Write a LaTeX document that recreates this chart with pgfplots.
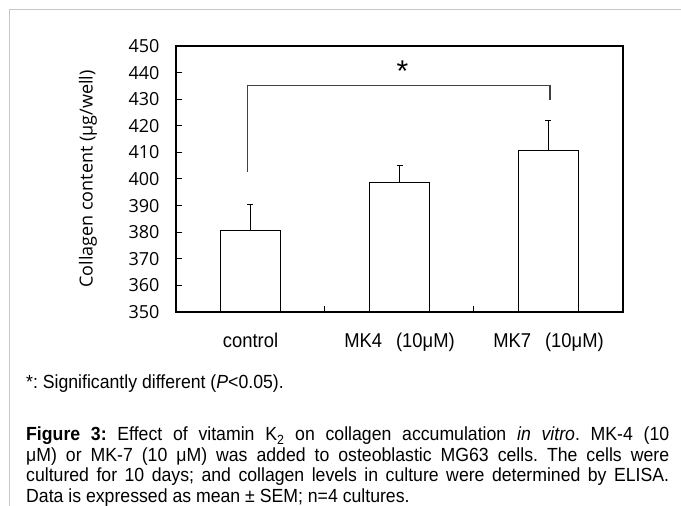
\documentclass[border=0pt]{standalone}
\usepackage{pgfplots}
\pgfplotsset{compat=1.18}
\usepackage{fontspec}
\setmainfont{Liberation Sans}
\newfontfamily\myr{Open Sans}
\newfontfamily\xf[FakeStretch=0.92]{Liberation Sans}
\newfontfamily\capf[FakeStretch=0.93]{Liberation Sans}
\begin{document}
\frenchspacing
\begin{tikzpicture}[x=1pt,y=1pt]
\useasboundingbox (0,0) rectangle (681,506);
\draw[gray!45, line width=1pt] (9,0) -- (9,496) -- (681,496);
\begin{axis}[
  at={(176pt,194pt)}, anchor=south west,
  scale only axis, width=447pt, height=266pt,
  xmin=-0.5, xmax=2.5, ymin=350, ymax=450,
  axis line style={line width=1.1pt},
  ytick={350,360,...,450},
  ytick pos=left, xtick pos=bottom,
  tick align=inside, major tick length=6pt,
  tick style={line width=1pt, black},
  /pgf/number format/assume math mode=true,
  yticklabel style={font=\fontsize{18}{20}\myr, xshift=-13pt},
  xtick={0,1,2},
  xticklabels={control, MK4\hspace{0.7em}(10μM), MK7\hspace{0.7em}(10μM)},
  xtick style={draw=none},
  xticklabel style={font=\fontsize{20}{22}\xf, yshift=-17pt},
  extra x ticks={0.5,1.5}, extra x tick labels={},
  extra x tick style={xtick style={draw=black, line width=1pt}},
  ylabel={Collagen content (μg/well)},
  y label style={at={(axis description cs:-0.197,0.5)}, anchor=center, font=\fontsize{18}{20}\myr},
  clip=false,
]
\addplot[ybar, bar width=0.4, fill=white, draw=black, line width=1pt,
  error bars/.cd, y dir=plus, y explicit,
  error bar style={line width=1pt, black},
  error mark options={black, line width=1pt, mark size=3pt, rotate=90}]
  coordinates {(0,380.5) +- (0,10.0) (1,398.7) +- (0,6.3) (2,410.6) +- (0,11.3)};
\draw[gray!50!black, line width=1.1pt] (axis cs:-0.02,402.7) -- (axis cs:-0.02,435.1) -- (axis cs:2.01,435.1) -- (axis cs:2.01,429.8);
\node[font=\fontsize{30}{30}\selectfont, inner sep=0pt] at (axis cs:1.02,440.5) {*};
\end{axis}
\begin{scope}[every node/.style={anchor=west, inner sep=0pt, font=\fontsize{19}{21}\capf}]
\node at (26,122) {*: Significantly different (\textit{P}<0.05).};
\node at (26,70) {\makebox[643pt][s]{\textbf{Figure 3:} Effect of vitamin K\textsubscript{2} on collagen accumulation \textit{in vitro}. MK-4 (10}};
\node at (26,49.5) {\makebox[643pt][s]{μM) or MK-7 (10 μM) was added to osteoblastic MG63 cells. The cells were}};
\node at (26,29) {\makebox[643pt][s]{cultured for 10 days; and collagen levels in culture were determined by ELISA.}};
\node at (26,8.5) {Data is expressed as mean ± SEM; n=4 cultures.};
\end{scope}
\end{tikzpicture}
\end{document}
